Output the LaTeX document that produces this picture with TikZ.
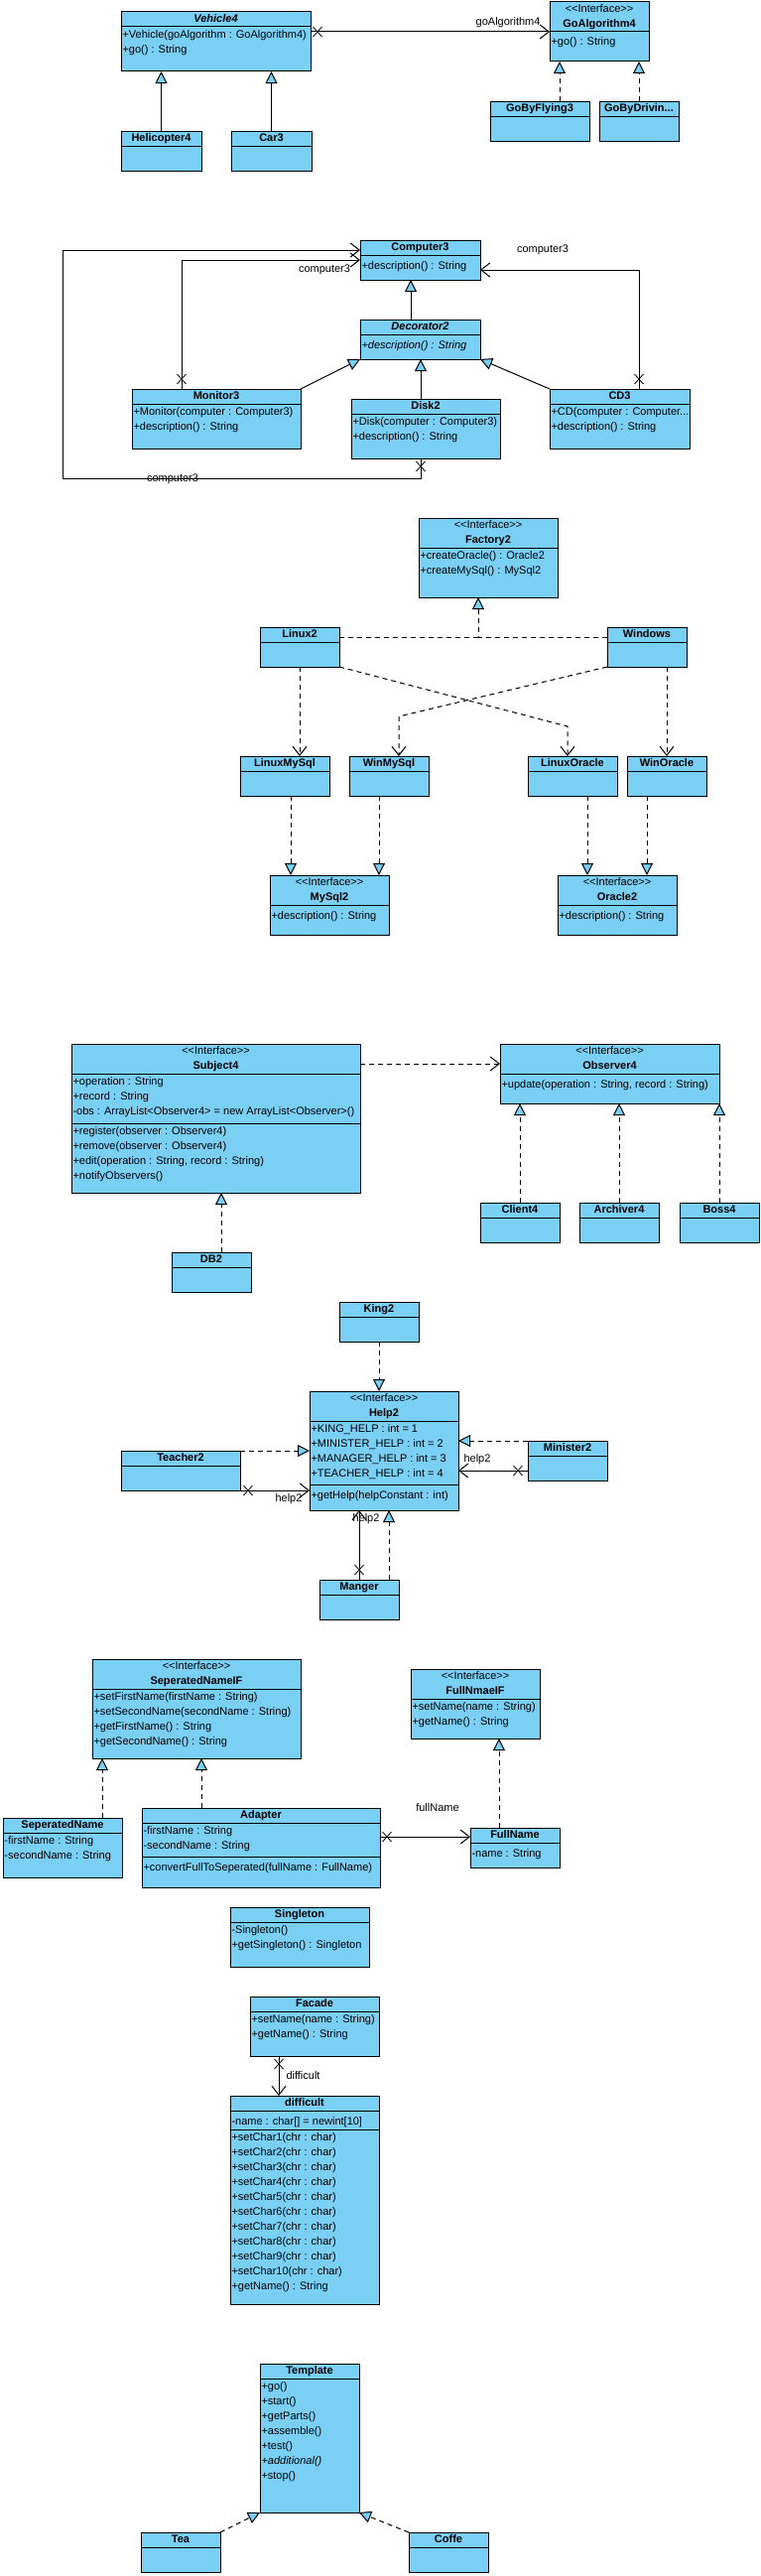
\documentclass[tikz,border=0pt]{standalone}
\usepackage{fontspec}
\newfontfamily\umlfont{Liberation Sans}
\usetikzlibrary{arrows.meta}

\begin{document}
\begin{tikzpicture}[x=1pt,y=-1pt,line width=1pt,
cls/.style={draw,fill=umlblue,inner sep=0pt,outer sep=0pt,anchor=north west},
title/.style={font=\umlfont\fontsize{11}{13}\selectfont\bfseries,inner sep=0pt,text height=8pt,text depth=2pt},
stereo/.style={font=\umlfont\fontsize{11}{13}\selectfont,inner sep=0pt,text height=8pt,text depth=2pt},
members/.style={font=\umlfont\fontsize{11}{15}\selectfont,align=left,inner sep=0pt,anchor=north west,execute at begin node=\strut},
lbl/.style={font=\umlfont\fontsize{11}{13}\selectfont,inner sep=0pt,text height=8pt,text depth=2pt},
dashline/.style={dash pattern=on 5pt off 4pt},
general/.style={-{Triangle[length=12pt,width=12pt,fill=umlblue]}},
realize/.style={dashline,-{Triangle[length=12pt,width=12pt,fill=umlblue]}},
assoc/.style={-{Straight Barb[length=9pt,width=14pt]}},
depend/.style={dashline,-{Straight Barb[length=9pt,width=14pt]}},
nonav/.pic={\draw[line width=0.8pt] (-4.5,-5) -- (4.5,5) (-4.5,5) -- (4.5,-5);}]

\definecolor{umlblue}{RGB}{122,207,245}

\fill[white] (0,0) rectangle (766,2596);
\useasboundingbox (0,0) rectangle (766,2596);

\node[cls,minimum width=191pt,minimum height=60pt] (vehicle) at (122,12) {};
\draw ([yshift=-15]vehicle.north west) -- ([yshift=-15]vehicle.north east);
\node[title] (vehicle-t) at ([yshift=-7.5]vehicle.north) {\itshape Vehicle4};
\node[members] (vehicle-m) at ([xshift=1,yshift=-18]vehicle.north west) {+Vehicle(goAlgorithm : GoAlgorithm4)\\+go() : String};

\node[cls,minimum width=81pt,minimum height=40pt] (heli) at (122,132) {};
\draw ([yshift=-15]heli.north west) -- ([yshift=-15]heli.north east);
\node[title] (heli-t) at ([yshift=-7.5]heli.north) {Helicopter4};

\node[cls,minimum width=81pt,minimum height=40pt] (car) at (233,132) {};
\draw ([yshift=-15]car.north west) -- ([yshift=-15]car.north east);
\node[title] (car-t) at ([yshift=-7.5]car.north) {Car3};

\node[cls,minimum width=100pt,minimum height=60pt] (goalg) at (554,2) {};
\draw ([yshift=-30]goalg.north west) -- ([yshift=-30]goalg.north east);
\node[stereo] (goalg-s) at ([yshift=-7.5]goalg.north) {<<Interface>>};
\node[title] (goalg-t) at ([yshift=-22.5]goalg.north) {GoAlgorithm4};
\node[members] (goalg-m) at ([xshift=1,yshift=-33]goalg.north west) {+go() : String};

\node[cls,minimum width=100pt,minimum height=40pt] (goflying) at (494,102) {};
\draw ([yshift=-15]goflying.north west) -- ([yshift=-15]goflying.north east);
\node[title] (goflying-t) at ([yshift=-7.5]goflying.north) {GoByFlying3};

\node[cls,minimum width=80pt,minimum height=40pt] (godriving) at (604,102) {};
\draw ([yshift=-15]godriving.north west) -- ([yshift=-15]godriving.north east);
\node[title] (godriving-t) at ([yshift=-7.5]godriving.north) {GoByDrivin...};

\draw[general] (heli.north) -- (heli.north |- vehicle.south);
\draw[general] (car.north) -- (car.north |- vehicle.south);
\draw[assoc] ([yshift=10]vehicle.east) -- (goalg.west);
\pic at ([xshift=7,yshift=10]vehicle.east) {nonav};
\node[lbl,anchor=east] (goalg-l) at ([xshift=-9,yshift=9]goalg.west) {goAlgorithm4};
\coordinate (fly-up) at ([xshift=20]goflying.north);
\draw[realize] (fly-up) -- (fly-up |- goalg.south);
\draw[realize] (godriving.north) -- (godriving.north |- goalg.south);

\node[cls,minimum width=121pt,minimum height=40pt] (computer) at (363,242) {};
\draw ([yshift=-15]computer.north west) -- ([yshift=-15]computer.north east);
\node[title] (computer-t) at ([yshift=-7.5]computer.north) {Computer3};
\node[members] (computer-m) at ([xshift=1,yshift=-18]computer.north west) {+description() : String};

\node[cls,minimum width=121pt,minimum height=40pt] (decorator) at (363,322) {};
\draw ([yshift=-15]decorator.north west) -- ([yshift=-15]decorator.north east);
\node[title] (decorator-t) at ([yshift=-7.5]decorator.north) {\itshape Decorator2};
\node[members] (decorator-m) at ([xshift=1,yshift=-18]decorator.north west) {\itshape +description() : String};

\node[cls,minimum width=170pt,minimum height=60pt] (monitor) at (133,392) {};
\draw ([yshift=-15]monitor.north west) -- ([yshift=-15]monitor.north east);
\node[title] (monitor-t) at ([yshift=-7.5]monitor.north) {Monitor3};
\node[members] (monitor-m) at ([xshift=1,yshift=-18]monitor.north west) {+Monitor(computer : Computer3)\\+description() : String};

\node[cls,minimum width=150pt,minimum height=60pt] (disk) at (354,402) {};
\draw ([yshift=-15]disk.north west) -- ([yshift=-15]disk.north east);
\node[title] (disk-t) at ([yshift=-7.5]disk.north) {Disk2};
\node[members] (disk-m) at ([xshift=1,yshift=-18]disk.north west) {+Disk(computer : Computer3)\\+description() : String};

\node[cls,minimum width=141pt,minimum height=60pt] (cd) at (554,392) {};
\draw ([yshift=-15]cd.north west) -- ([yshift=-15]cd.north east);
\node[title] (cd-t) at ([yshift=-7.5]cd.north) {CD3};
\node[members] (cd-m) at ([xshift=1,yshift=-18]cd.north west) {+CD(computer : Computer...\\+description() : String};

\coordinate (deco-up) at ([xshift=-9.5]decorator.north);
\draw[general] (deco-up) -- (deco-up |- computer.south);
\draw[general] (monitor.north east) -- (decorator.south west);
\coordinate (disk-up) at ([xshift=-5]disk.north);
\draw[general] (disk-up) -- (disk-up |- decorator.south);
\draw[general] (cd.north west) -- (decorator.south east);

\coordinate (mon-a) at ([xshift=50]monitor.north west);
\draw[assoc] (mon-a) |- (computer.west);
\pic at ([yshift=10]mon-a) {nonav};
\node[lbl] (mon-l) at (327,271) {computer3};
\coordinate (disk-a) at (disk-up |- disk.south);
\coordinate (disk-b) at (63,482);
\draw[assoc] (disk-a) |- (disk-b) |- ([yshift=10]computer.west);
\pic at ([yshift=-8]disk-a) {nonav};
\node[lbl] (disk-l) at (174,482) {computer3};
\coordinate (cd-a) at ([xshift=90]cd.north west);
\draw[assoc] (cd-a) |- ([yshift=-10]computer.east);
\pic at ([yshift=10]cd-a) {nonav};
\node[lbl] (cd-l) at (547,251) {computer3};

\node[cls,minimum width=140pt,minimum height=80pt] (factory) at (422,522) {};
\draw ([yshift=-30]factory.north west) -- ([yshift=-30]factory.north east);
\node[stereo] (factory-s) at ([yshift=-7.5]factory.north) {<<Interface>>};
\node[title] (factory-t) at ([yshift=-22.5]factory.north) {Factory2};
\node[members] (factory-m) at ([xshift=1,yshift=-33]factory.north west) {+createOracle() : Oracle2\\+createMySql() : MySql2};

\node[cls,minimum width=80pt,minimum height=40pt] (linux) at (262,632) {};
\draw ([yshift=-15]linux.north west) -- ([yshift=-15]linux.north east);
\node[title] (linux-t) at ([yshift=-7.5]linux.north) {Linux2};

\node[cls,minimum width=80pt,minimum height=40pt] (windows) at (612,632) {};
\draw ([yshift=-15]windows.north west) -- ([yshift=-15]windows.north east);
\node[title] (windows-t) at ([yshift=-7.5]windows.north) {Windows};

\node[cls,minimum width=90pt,minimum height=40pt] (linuxmysql) at (242,762) {};
\draw ([yshift=-15]linuxmysql.north west) -- ([yshift=-15]linuxmysql.north east);
\node[title] (linuxmysql-t) at ([yshift=-7.5]linuxmysql.north) {LinuxMySql};

\node[cls,minimum width=80pt,minimum height=40pt] (winmysql) at (352,762) {};
\draw ([yshift=-15]winmysql.north west) -- ([yshift=-15]winmysql.north east);
\node[title] (winmysql-t) at ([yshift=-7.5]winmysql.north) {WinMySql};

\node[cls,minimum width=90pt,minimum height=40pt] (linuxoracle) at (532,762) {};
\draw ([yshift=-15]linuxoracle.north west) -- ([yshift=-15]linuxoracle.north east);
\node[title] (linuxoracle-t) at ([yshift=-7.5]linuxoracle.north) {LinuxOracle};

\node[cls,minimum width=80pt,minimum height=40pt] (winoracle) at (632,762) {};
\draw ([yshift=-15]winoracle.north west) -- ([yshift=-15]winoracle.north east);
\node[title] (winoracle-t) at ([yshift=-7.5]winoracle.north) {WinOracle};

\node[cls,minimum width=120pt,minimum height=60pt] (mysql) at (272,882) {};
\draw ([yshift=-30]mysql.north west) -- ([yshift=-30]mysql.north east);
\node[stereo] (mysql-s) at ([yshift=-7.5]mysql.north) {<<Interface>>};
\node[title] (mysql-t) at ([yshift=-22.5]mysql.north) {MySql2};
\node[members] (mysql-m) at ([xshift=1,yshift=-33]mysql.north west) {+description() : String};

\node[cls,minimum width=120pt,minimum height=60pt] (oracle) at (562,882) {};
\draw ([yshift=-30]oracle.north west) -- ([yshift=-30]oracle.north east);
\node[stereo] (oracle-s) at ([yshift=-7.5]oracle.north) {<<Interface>>};
\node[title] (oracle-t) at ([yshift=-22.5]oracle.north) {Oracle2};
\node[members] (oracle-m) at ([xshift=1,yshift=-33]oracle.north west) {+description() : String};

\coordinate (fac-dn) at ([xshift=-10]factory.south);
\coordinate (fac-j) at (482,642);
\draw[dashline] ([yshift=10]linux.east) -- (fac-j);
\draw[realize] ([yshift=10]windows.west) -- (fac-j) -- (fac-dn);
\draw[depend] (linux.south) -- (linux.south |- linuxmysql.north);
\coordinate (lo-bend) at (572,732);
\draw[depend] (linux.south east) -- (lo-bend) -- (lo-bend |- linuxoracle.north);
\coordinate (wm-bend) at (402,722);
\draw[depend] (windows.south west) -- (wm-bend) -- (wm-bend |- winmysql.north);
\draw[depend] (winoracle.north |- windows.south) -- (winoracle.north);
\coordinate (lm-dn) at ([xshift=6]linuxmysql.south);
\draw[realize] (lm-dn) -- (lm-dn |- mysql.north);
\coordinate (wm-dn) at ([xshift=-10]winmysql.south);
\draw[realize] (wm-dn) -- (wm-dn |- mysql.north);
\coordinate (lo-dn) at ([xshift=15]linuxoracle.south);
\draw[realize] (lo-dn) -- (lo-dn |- oracle.north);
\coordinate (wo-dn) at ([xshift=-20]winoracle.south);
\draw[realize] (wo-dn) -- (wo-dn |- oracle.north);

\node[cls,minimum width=291pt,minimum height=150pt] (subject) at (72,1052) {};
\draw ([yshift=-30]subject.north west) -- ([yshift=-30]subject.north east);
\draw ([yshift=-80]subject.north west) -- ([yshift=-80]subject.north east);
\node[stereo] (subject-s) at ([yshift=-7.5]subject.north) {<<Interface>>};
\node[title] (subject-t) at ([yshift=-22.5]subject.north) {Subject4};
\node[members] (subject-a) at ([xshift=1,yshift=-33]subject.north west) {+operation : String\\+record : String\\-obs : ArrayList<Observer4> = new ArrayList<Observer>()};
\node[members] (subject-m) at ([xshift=1,yshift=-83]subject.north west) {+register(observer : Observer4)\\+remove(observer : Observer4)\\+edit(operation : String, record : String)\\+notifyObservers()};

\node[cls,minimum width=221pt,minimum height=60pt] (observer) at (504,1052) {};
\draw ([yshift=-30]observer.north west) -- ([yshift=-30]observer.north east);
\node[stereo] (observer-s) at ([yshift=-7.5]observer.north) {<<Interface>>};
\node[title] (observer-t) at ([yshift=-22.5]observer.north) {Observer4};
\node[members] (observer-m) at ([xshift=1,yshift=-33]observer.north west) {+update(operation : String, record : String)};

\node[cls,minimum width=80pt,minimum height=40pt] (client) at (484,1212) {};
\draw ([yshift=-15]client.north west) -- ([yshift=-15]client.north east);
\node[title] (client-t) at ([yshift=-7.5]client.north) {Client4};

\node[cls,minimum width=80pt,minimum height=40pt] (archiver) at (584,1212) {};
\draw ([yshift=-15]archiver.north west) -- ([yshift=-15]archiver.north east);
\node[title] (archiver-t) at ([yshift=-7.5]archiver.north) {Archiver4};

\node[cls,minimum width=80pt,minimum height=40pt] (boss) at (685,1212) {};
\draw ([yshift=-15]boss.north west) -- ([yshift=-15]boss.north east);
\node[title] (boss-t) at ([yshift=-7.5]boss.north) {Boss4};

\node[cls,minimum width=80pt,minimum height=40pt] (db) at (173,1262) {};
\draw ([yshift=-15]db.north west) -- ([yshift=-15]db.north east);
\node[title] (db-t) at ([yshift=-7.5]db.north) {DB2};

\draw[depend] ([yshift=-20]subject.north east) -- ([yshift=-20]observer.north west);
\draw[realize] (client.north) -- (client.north |- observer.south);
\draw[realize] (archiver.north) -- (archiver.north |- observer.south);
\draw[realize] (boss.north) -- (boss.north |- observer.south);
\coordinate (db-up) at ([xshift=10]db.north);
\draw[realize] (db-up) -- (db-up |- subject.south);

\node[cls,minimum width=80pt,minimum height=40pt] (king) at (342,1312) {};
\draw ([yshift=-15]king.north west) -- ([yshift=-15]king.north east);
\node[title] (king-t) at ([yshift=-7.5]king.north) {King2};

\node[cls,minimum width=150pt,minimum height=120pt] (help) at (312,1402) {};
\draw ([yshift=-30]help.north west) -- ([yshift=-30]help.north east);
\draw ([yshift=-94]help.north west) -- ([yshift=-94]help.north east);
\node[stereo] (help-s) at ([yshift=-7.5]help.north) {<<Interface>>};
\node[title] (help-t) at ([yshift=-22.5]help.north) {Help2};
\node[members] (help-a) at ([xshift=1,yshift=-33]help.north west) {+KING\_HELP : int = 1\\+MINISTER\_HELP : int = 2\\+MANAGER\_HELP : int = 3\\+TEACHER\_HELP : int = 4};
\node[members] (help-m) at ([xshift=1,yshift=-97]help.north west) {+getHelp(helpConstant : int)};

\node[cls,minimum width=120pt,minimum height=40pt] (teacher) at (122,1462) {};
\draw ([yshift=-15]teacher.north west) -- ([yshift=-15]teacher.north east);
\node[title] (teacher-t) at ([yshift=-7.5]teacher.north) {Teacher2};

\node[cls,minimum width=80pt,minimum height=40pt] (minister) at (532,1452) {};
\draw ([yshift=-15]minister.north west) -- ([yshift=-15]minister.north east);
\node[title] (minister-t) at ([yshift=-7.5]minister.north) {Minister2};

\node[cls,minimum width=80pt,minimum height=40pt] (manger) at (322,1592) {};
\draw ([yshift=-15]manger.north west) -- ([yshift=-15]manger.north east);
\node[title] (manger-t) at ([yshift=-7.5]manger.north) {Manger};

\draw[realize] (king.south) -- (king.south |- help.north);
\draw[realize] (teacher.north east) -- (teacher.north east -| help.west);
\draw[assoc] (teacher.south east) -- (teacher.south east -| help.west);
\pic at ([xshift=8]teacher.south east) {nonav};
\node[lbl] (teacher-l) at (291,1510) {help2};
\draw[realize] (minister.north west) -- (minister.north west -| help.east);
\coordinate (min-a) at ([yshift=10]minister.south west);
\draw[assoc] (min-a) -- (min-a -| help.east);
\pic at ([xshift=-10]min-a) {nonav};
\node[lbl] (minister-l) at (481,1470) {help2};
\draw[assoc] (manger.north) -- (manger.north |- help.south);
\pic at ([yshift=10]manger.north) {nonav};
\node[lbl] (manger-l) at (369,1530) {help2};
\coordinate (man-r) at ([xshift=-10]manger.north east);
\draw[realize] (man-r) -- (man-r |- help.south);

\node[cls,minimum width=210pt,minimum height=100pt] (sepif) at (93,1672) {};
\draw ([yshift=-30]sepif.north west) -- ([yshift=-30]sepif.north east);
\node[stereo] (sepif-s) at ([yshift=-7.5]sepif.north) {<<Interface>>};
\node[title] (sepif-t) at ([yshift=-22.5]sepif.north) {SeperatedNameIF};
\node[members] (sepif-m) at ([xshift=1,yshift=-33]sepif.north west) {+setFirstName(firstName : String)\\+setSecondName(secondName : String)\\+getFirstName() : String\\+getSecondName() : String};

\node[cls,minimum width=130pt,minimum height=70pt] (fullif) at (414,1682) {};
\draw ([yshift=-30]fullif.north west) -- ([yshift=-30]fullif.north east);
\node[stereo] (fullif-s) at ([yshift=-7.5]fullif.north) {<<Interface>>};
\node[title] (fullif-t) at ([yshift=-22.5]fullif.north) {FullNmaeIF};
\node[members] (fullif-m) at ([xshift=1,yshift=-33]fullif.north west) {+setName(name : String)\\+getName() : String};

\node[cls,minimum width=120pt,minimum height=60pt] (sepname) at (3,1832) {};
\draw ([yshift=-15]sepname.north west) -- ([yshift=-15]sepname.north east);
\node[title] (sepname-t) at ([yshift=-7.5]sepname.north) {SeperatedName};
\node[members] (sepname-a) at ([xshift=1,yshift=-18]sepname.north west) {-firstName : String\\-secondName : String};

\node[cls,minimum width=240pt,minimum height=80pt] (adapter) at (143,1822) {};
\draw ([yshift=-15]adapter.north west) -- ([yshift=-15]adapter.north east);
\draw ([yshift=-49]adapter.north west) -- ([yshift=-49]adapter.north east);
\node[title] (adapter-t) at ([yshift=-7.5]adapter.north) {Adapter};
\node[members] (adapter-a) at ([xshift=1,yshift=-18]adapter.north west) {-firstName : String\\-secondName : String};
\node[members] (adapter-m) at ([xshift=1,yshift=-52]adapter.north west) {+convertFullToSeperated(fullName : FullName)};

\node[cls,minimum width=90pt,minimum height=40pt] (fullname) at (474,1842) {};
\draw ([yshift=-15]fullname.north west) -- ([yshift=-15]fullname.north east);
\node[title] (fullname-t) at ([yshift=-7.5]fullname.north) {FullName};
\node[members] (fullname-a) at ([xshift=1,yshift=-18]fullname.north west) {-name : String};

\coordinate (sn-up) at ([xshift=-20]sepname.north east);
\draw[realize] (sn-up) -- (sn-up |- sepif.south);
\coordinate (ad-up) at ([xshift=60]adapter.north west);
\draw[realize] (ad-up) -- (ad-up |- sepif.south);
\coordinate (fn-up) at ([xshift=29]fullname.north west);
\draw[realize] (fn-up) -- (fn-up |- fullif.south);
\coordinate (ad-a) at ([yshift=-29]adapter.north east);
\draw[assoc] (ad-a) -- (ad-a -| fullname.west);
\pic at ([xshift=7]ad-a) {nonav};
\node[lbl] (ad-l) at (441,1822) {fullName};

\node[cls,minimum width=140pt,minimum height=60pt] (singleton) at (232,1922) {};
\draw ([yshift=-15]singleton.north west) -- ([yshift=-15]singleton.north east);
\node[title] (singleton-t) at ([yshift=-7.5]singleton.north) {Singleton};
\node[members] (singleton-m) at ([xshift=1,yshift=-18]singleton.north west) {-Singleton()\\+getSingleton() : Singleton};

\node[cls,minimum width=130pt,minimum height=60pt] (facade) at (252,2012) {};
\draw ([yshift=-15]facade.north west) -- ([yshift=-15]facade.north east);
\node[title] (facade-t) at ([yshift=-7.5]facade.north) {Facade};
\node[members] (facade-m) at ([xshift=1,yshift=-18]facade.north west) {+setName(name : String)\\+getName() : String};

\node[cls,minimum width=150pt,minimum height=210pt] (difficult) at (232,2112) {};
\draw ([yshift=-15]difficult.north west) -- ([yshift=-15]difficult.north east);
\draw ([yshift=-34]difficult.north west) -- ([yshift=-34]difficult.north east);
\node[title] (difficult-t) at ([yshift=-7.5]difficult.north) {difficult};
\node[members] (difficult-a) at ([xshift=1,yshift=-18]difficult.north west) {-name : char[] = newint[10]};
\node[members] (difficult-m) at ([xshift=1,yshift=-37]difficult.north west) {+setChar1(chr : char)\\+setChar2(chr : char)\\+setChar3(chr : char)\\+setChar4(chr : char)\\+setChar5(chr : char)\\+setChar6(chr : char)\\+setChar7(chr : char)\\+setChar8(chr : char)\\+setChar9(chr : char)\\+setChar10(chr : char)\\+getName() : String};

\coordinate (fa-a) at ([xshift=29]facade.south west);
\draw[assoc] (fa-a) -- (fa-a |- difficult.north);
\pic at ([yshift=-8]fa-a) {nonav};
\node[lbl,anchor=west] (fa-l) at (288,2092) {difficult};

\node[cls,minimum width=100pt,minimum height=150pt] (template) at (262,2382) {};
\draw ([yshift=-15]template.north west) -- ([yshift=-15]template.north east);
\node[title] (template-t) at ([yshift=-7.5]template.north) {Template};
\node[members] (template-m) at ([xshift=1,yshift=-18]template.north west) {+go()\\+start()\\+getParts()\\+assemble()\\+test()\\\textit{+additional()}\\+stop()};

\node[cls,minimum width=80pt,minimum height=40pt] (tea) at (142,2552) {};
\draw ([yshift=-15]tea.north west) -- ([yshift=-15]tea.north east);
\node[title] (tea-t) at ([yshift=-7.5]tea.north) {Tea};

\node[cls,minimum width=80pt,minimum height=40pt] (coffe) at (412,2552) {};
\draw ([yshift=-15]coffe.north west) -- ([yshift=-15]coffe.north east);
\node[title] (coffe-t) at ([yshift=-7.5]coffe.north) {Coffe};

\draw[realize] (tea.north east) -- (template.south west);
\draw[realize] (coffe.north west) -- (template.south east);

\end{tikzpicture}
\end{document}
